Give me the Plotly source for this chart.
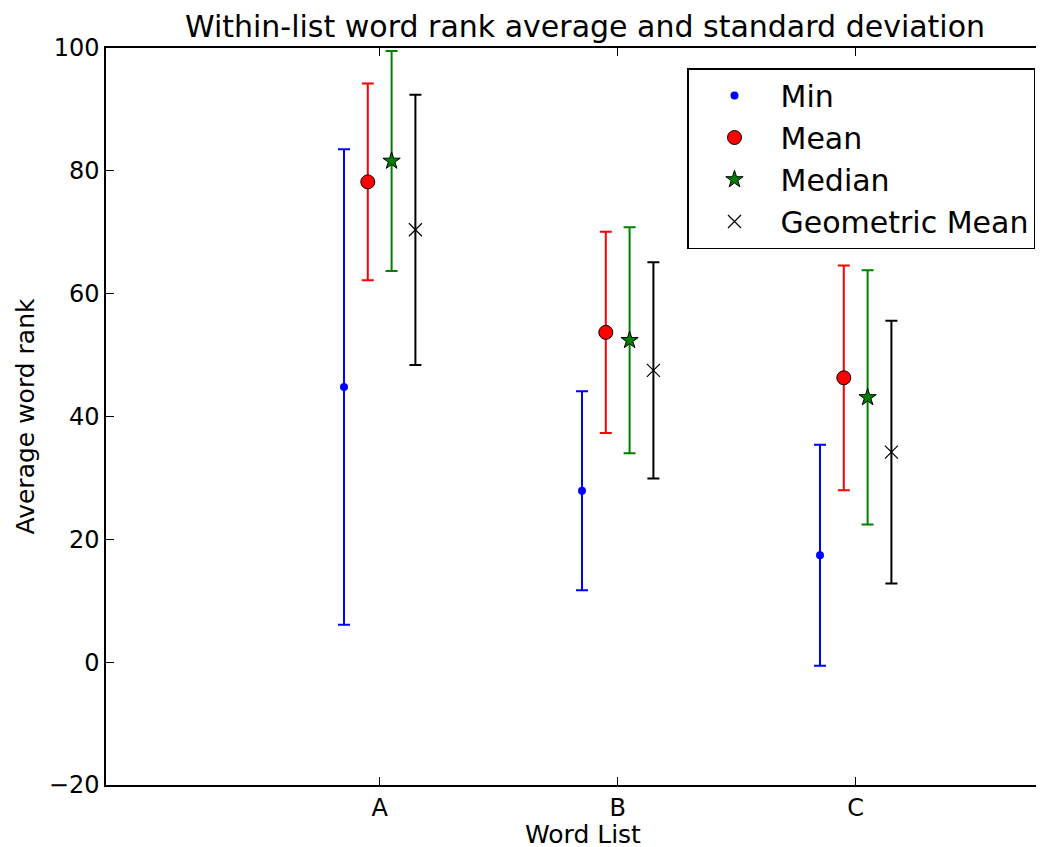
import numpy as np
import plotly.graph_objects as go

# ---- data ----
categories = ["A", "B", "C"]
min_vals = [44.8, 27.9, 17.4]
min_err = [38.7, 16.2, 18.0]
mean_vals = [78.2, 53.7, 46.3]
mean_err = [16.0, 16.4, 18.3]
median_vals = [81.6, 52.4, 43.1]
median_err = [17.9, 18.4, 20.7]
geo_vals = [70.4, 47.5, 34.2]
geo_err = [22.0, 17.6, 21.4]
y_ticks = [-20, 0, 20, 40, 60, 80, 100]

base = np.arange(1, len(categories) + 1)
FONT = "DejaVu Sans"

series = [
    ("Min", min_vals, min_err, 0.0, dict(symbol="circle", size=8, color="blue", line=dict(width=0)), "blue"),
    ("Mean", mean_vals, mean_err, 0.1, dict(symbol="circle", size=14, color="red", line=dict(width=1, color="black")), "red"),
    ("Median", median_vals, median_err, 0.2, dict(symbol="star", size=13, color="green", line=dict(width=1, color="black")), "green"),
    ("Geometric Mean", geo_vals, geo_err, 0.3, dict(symbol="x-thin", size=13, color="black", line=dict(width=1.2, color="black")), "black"),
]

fig = go.Figure()
for name, vals, err, off, marker, col in series:
    fig.add_trace(go.Scatter(
        x=base + off, y=vals, name=name, mode="markers",
        marker=marker,
        error_y=dict(type="data", array=err, symmetric=True, color=col, thickness=2, width=6),
    ))

# page has an 8px body margin: figure coords = reference coords - 8
OFF = 8
W, H = 1044 - 2 * OFF, 847 - OFF
L, R, T = 106 - OFF, 0, 48 - OFF
B = H - (785 - OFF)
pw = W - L - R
ph = H - T - B
px_per_unit = 238.0

fig.update_layout(
    width=W, height=H,
    margin=dict(l=L, r=R, t=T, b=B, pad=0),
    paper_bgcolor="white", plot_bgcolor="white",
    font=dict(family=FONT, size=24, color="black"),
    title=dict(text="Within-list word rank average and standard deviation",
               font=dict(family=FONT, size=30, color="black"),
               x=(585 - OFF) / W, xref="container", xanchor="center",
               y=1 - (26 - OFF) / H, yref="container", yanchor="middle"),
    showlegend=True,
    legend=dict(
        x=(1035 - OFF - L) / pw, xanchor="right",
        y=(H - B - (68 - OFF)) / ph, yanchor="top",
        bordercolor="black", borderwidth=1.5, bgcolor="white",
        font=dict(family=FONT, size=30, color="black"),
        itemwidth=82,
    ),
)

fig.update_xaxes(
    range=[0, pw / px_per_unit],
    tickvals=list(base + 0.15), ticktext=categories,
    ticks="inside", ticklen=8, tickwidth=1, tickcolor="black",
    showline=True, linecolor="black", linewidth=1.5, mirror="ticks",
    showgrid=False, zeroline=False,
    tickfont=dict(family=FONT, size=24, color="black"),
)
fig.update_yaxes(
    range=[-20, 100], tickvals=y_ticks,
    ticktext=[("\u2212" + str(-v)) if v < 0 else str(v) for v in y_ticks],
    ticks="inside", ticklen=8, tickwidth=1, tickcolor="black",
    showline=True, linecolor="black", linewidth=1.5, mirror=False,
    showgrid=False, zeroline=False,
    tickfont=dict(family=FONT, size=24, color="black"),
    title=dict(text="Average word rank", font=dict(family=FONT, size=25, color="black"), standoff=7),
)

fig.add_annotation(
    text="Word List", xref="paper", yref="paper",
    x=(583 - OFF - L) / pw, y=-(834 - 785) / ph, xanchor="center", yanchor="middle",
    showarrow=False, font=dict(family=FONT, size=25, color="black"),
)

fig.write_html("out.html")
